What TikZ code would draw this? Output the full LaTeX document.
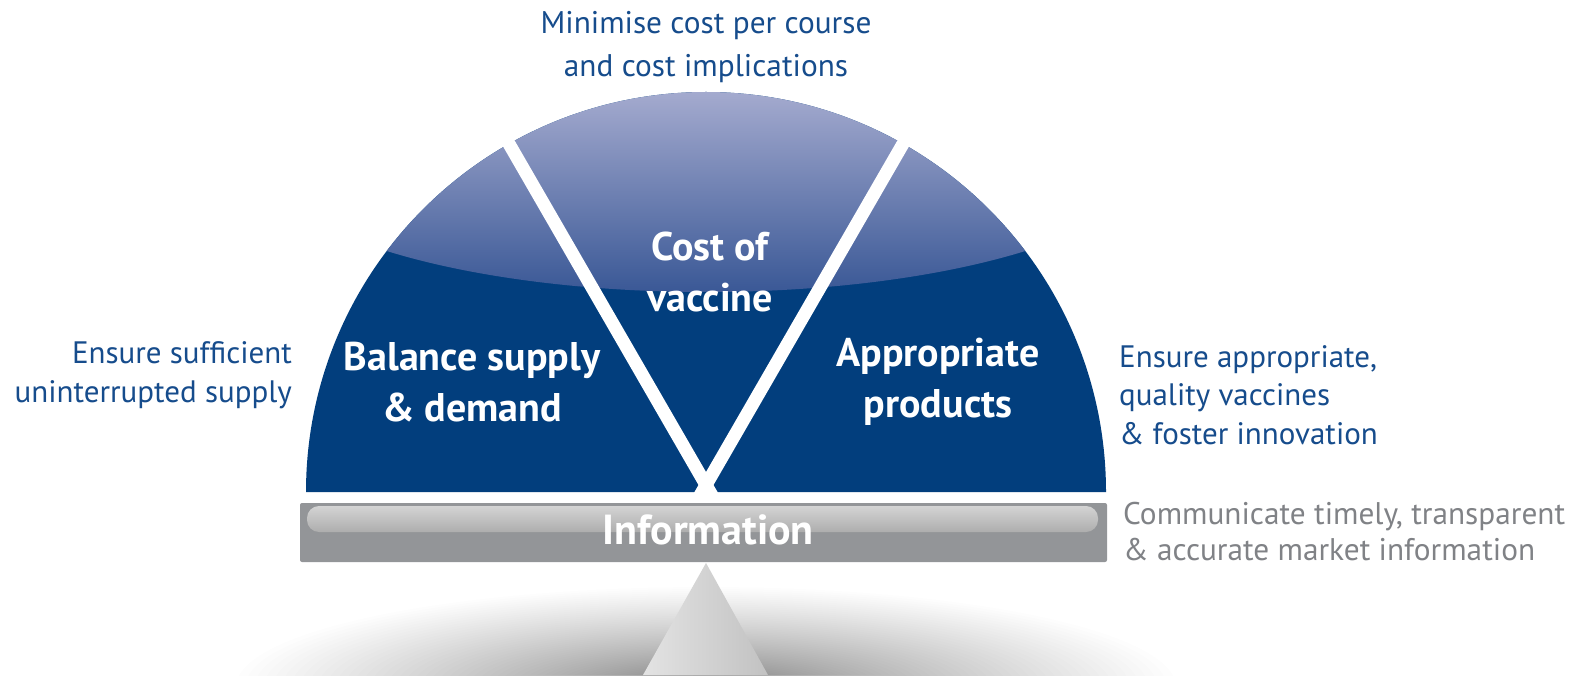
\documentclass[tikz,border=0pt]{standalone}
\usepackage{fontspec}
\setmainfont{PT Sans}
\definecolor{navy}{HTML}{023E7D}
\definecolor{lav}{HTML}{A5ABCF}
\definecolor{midblue}{HTML}{3A5896}
\definecolor{txtblue}{HTML}{164C8C}
\definecolor{bargray}{HTML}{939598}
\definecolor{txtgray}{HTML}{808286}
\tikzset{
  outtxt/.style={text=txtblue, font=\fontsize{31}{38.5}\selectfont, inner sep=0pt},
  graytxt/.style={text=txtgray, font=\fontsize{31.3}{36}\selectfont, inner sep=0pt, align=left},
  wedgetxt/.style={text=white, font=\bfseries\fontsize{40}{51}\selectfont, align=center, inner sep=0pt},
  gapline/.style={white, line width=13pt}
}
\begin{document}
\begin{tikzpicture}[x=1pt,y=1pt]
\useasboundingbox (0,0) rectangle (1578,675);
\fill[white] (0,0) rectangle (1578,675);
% soft shadow under the fulcrum
\begin{scope}
  \clip (0,0) rectangle (1578,675);
  \foreach \i in {1,...,70}{
    \pgfmathsetmacro{\f}{(\i/70)^1.4}
    \fill[black, opacity=0.009] (706,-12) ellipse [x radius={470*\f}, y radius={100*\f}];
  }
\end{scope}
% fulcrum
\coordinate (apex) at (706,112);
\coordinate (bl) at (643,0);
\coordinate (br) at (768,0);
\shade[left color=black!11, right color=black!24] (apex) -- (br) -- (bl) -- cycle;
% semicircle
\coordinate (C) at (706,183);
\begin{scope}
  \clip (306,183) arc[start angle=180, end angle=0, radius=400] -- cycle;
  \fill[navy] (300,180) rectangle (1110,590);
  \begin{scope}
    \clip (706,524) ellipse [x radius=453, y radius=141];
    \shade[top color=lav, bottom color=midblue] (300,383) rectangle (1110,585);
  \end{scope}
\end{scope}
% white gaps
\coordinate (P) at (706,190);
\draw[gapline] (P) ++(300:14) -- ++(120:440);
\draw[gapline] (P) ++(240:14) -- ++(60:440);
% bar
\node[draw=none, fill=bargray, rounded corners=2pt, minimum width=807pt, minimum height=59pt, inner sep=0pt] (bar) at (703.5,142.5) {};
\shade[top color=black!17, bottom color=black!32, rounded corners=12pt] (307,143) rectangle (1098,169);
\node[text=white, font=\bfseries\fontsize{42}{50}\selectfont, inner sep=0pt] (info) at (708,145) {Information};
% wedge labels
\node[wedgetxt] (cost) at (710,403) {Cost of\\vaccine};
\node[wedgetxt] (bal) at (472,293) {Balance supply\\\& demand};
\node[wedgetxt] (app) at (938,293) {Appropriate\\products};
% outer labels
\node[outtxt, align=center, font=\fontsize{31.3}{43}\selectfont] (top) at (706,628) {Minimise cost per course\\and cost implications};
\node[outtxt, align=right, anchor=east] (left) at (292,300) {Ensure sufficient\\uninterrupted supply};
\node[outtxt, align=left, anchor=west] (right) at (1119,280) {Ensure appropriate,\\quality vaccines\\\& foster innovation};
\node[graytxt, anchor=west] (comm) at (1123,143) {Communicate timely, transparent\\\& accurate market information};
\end{tikzpicture}
\end{document}
